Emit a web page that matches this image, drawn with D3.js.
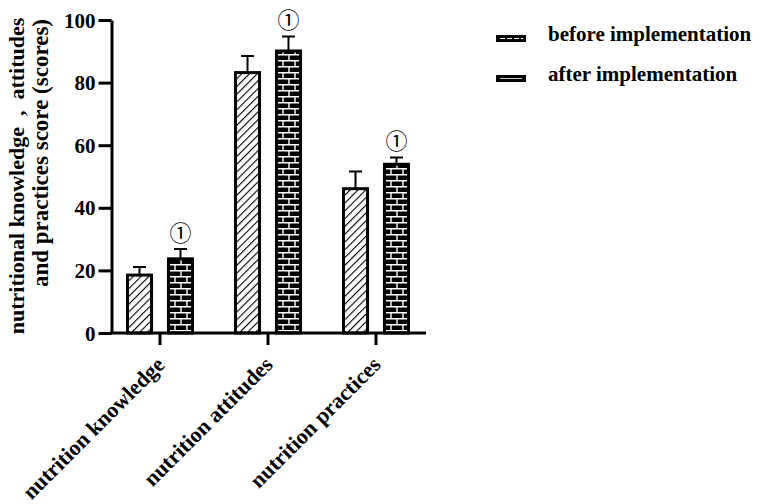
<!DOCTYPE html>
<html>
<head>
<meta charset="utf-8">
<script src="https://cdn.jsdelivr.net/npm/d3@7"></script>
<style>
  body { margin: 0; background: #fff; }
  svg { display: block; }
  text { font-family: 'Liberation Serif', 'Times New Roman', serif; font-weight: bold; fill: #000; }
</style>
</head>
<body>
<div id="chart"></div>
<script>
// Chart data
const categories = ['nutrition knowledge', 'nutrition attitudes', 'nutrition practices'];
const seriesNames = ['before implementation', 'after implementation'];
const beforeValues = [18.5, 83.2, 46.1];
const beforeErrors = [2.6, 5.3, 5.5];
const afterValues = [23.7, 90.1, 53.9];
const afterErrors = [3.1, 4.6, 2.2];
const yTicks = [0, 20, 40, 60, 80, 100];
const significant = [true, true, true];

const width = 765;
const height = 504;

const svg = d3.select('#chart')
  .append('svg')
  .attr('width', width)
  .attr('height', height);

const defs = svg.append('defs');

// diagonal hatch for "before"
const hatch = defs.append('pattern')
  .attr('id', 'hatch')
  .attr('patternUnits', 'userSpaceOnUse')
  .attr('width', 5.5)
  .attr('height', 5.5)
  .attr('patternTransform', 'rotate(45)');
hatch.append('rect').attr('width', 5.5).attr('height', 5.5).attr('fill', '#fff');
hatch.append('line')
  .attr('x1', 0).attr('y1', 0).attr('x2', 0).attr('y2', 5.5)
  .attr('stroke', '#000').attr('stroke-width', 2.2);

// brick for "after"
const brick = defs.append('pattern')
  .attr('id', 'brick')
  .attr('patternUnits', 'userSpaceOnUse')
  .attr('width', 12)
  .attr('height', 12);
brick.append('rect').attr('width', 12).attr('height', 12).attr('fill', '#000');
brick.append('path')
  .attr('d', 'M0,0.75H12M0,6.75H12M3,0.75V6.75M9,6.75V12')
  .attr('stroke', '#fff').attr('stroke-width', 1.4).attr('fill', 'none');

// Scales
const x = d3.scaleBand().domain(categories).range([106, 430]);
const inner = d3.scaleBand().domain(seriesNames).range([-34, 34]).paddingInner(0.34);
const y = d3.scaleLinear().domain([0, 100]).range([333, 20]);

const rows = categories.map((c, i) => ({
  cat: c,
  bars: [
    { key: seriesNames[0], v: beforeValues[i], e: beforeErrors[i], fill: 'url(#hatch)' },
    { key: seriesNames[1], v: afterValues[i], e: afterErrors[i], fill: 'url(#brick)' },
  ],
  sig: significant[i],
  after: afterValues[i] + afterErrors[i],
}));

// Bars and error bars
const groups = svg.selectAll('.grp')
  .data(rows)
  .enter().append('g')
  .attr('class', 'grp')
  .attr('transform', d => `translate(${x(d.cat) + x.bandwidth() / 2},0)`);

groups.selectAll('.err')
  .data(d => d.bars)
  .enter().append('path')
  .attr('class', 'err')
  .attr('d', b => {
    const cx = inner(b.key) + inner.bandwidth() / 2;
    const top = y(b.v + b.e);
    return `M${cx},${y(b.v)}V${top}M${cx - 6.5},${top}H${cx + 6.5}`;
  })
  .attr('stroke', '#000')
  .attr('stroke-width', 2)
  .attr('fill', 'none');

groups.selectAll('.bar')
  .data(d => d.bars)
  .enter().append('rect')
  .attr('class', 'bar')
  .attr('x', b => inner(b.key) + 1.5)
  .attr('width', inner.bandwidth() - 3)
  .attr('y', b => y(b.v))
  .attr('height', b => y(0) - y(b.v))
  .attr('fill', b => b.fill)
  .attr('stroke', '#000')
  .attr('stroke-width', 3);

// significance marks
groups.filter(d => d.sig)
  .append('text')
  .attr('x', inner(seriesNames[1]) + inner.bandwidth() / 2)
  .attr('y', d => y(d.after) - 16)
  .attr('dy', '0.35em')
  .attr('text-anchor', 'middle')
  .style('font-family', "'Noto Sans CJK SC', 'DejaVu Sans', sans-serif")
  .style('font-weight', 'normal')
  .style('font-size', '22px')
  .style('fill', '#000')
  .text('①');

// Y axis
const yAxis = svg.append('g')
  .attr('transform', 'translate(111.5,0)')
  .call(d3.axisLeft(y).tickValues(yTicks).tickSize(13).tickSizeOuter(0).tickPadding(3));
yAxis.select('.domain').attr('stroke-width', 3);
yAxis.selectAll('.tick line').attr('stroke-width', 3);
yAxis.selectAll('.tick text')
  .style('font-size', '21px')
  .style('font-family', "'Liberation Serif', serif")
  .attr('dy', '0.34em');

// X axis
const xAxis = svg.append('g')
  .attr('transform', `translate(0,${y(0)})`)
  .call(d3.axisBottom(x).tickSize(12).tickSizeOuter(0).tickFormat(''));
xAxis.select('.domain').remove();
xAxis.append('line')
  .attr('x1', 110).attr('x2', 426)
  .attr('stroke', '#000').attr('stroke-width', 3);
xAxis.selectAll('.tick line').attr('stroke-width', 3);

svg.append('g')
  .selectAll('text')
  .data(categories)
  .enter().append('text')
  .attr('transform', d => `translate(${x(d) + x.bandwidth() / 2 + 6},${y(0) + 33}) rotate(-45)`)
  .attr('text-anchor', 'end')
  .style('font-size', '22px')
  .text(d => d);

// Y title (two lines)
svg.append('text')
  .attr('transform', 'translate(24,176) rotate(-90)')
  .attr('text-anchor', 'middle')
  .style('font-size', '22px')
  .text('nutritional knowledge\u2002,\u2002attitudes');
svg.append('text')
  .attr('transform', 'translate(48,153) rotate(-90)')
  .attr('text-anchor', 'middle')
  .style('font-size', '23px')
  .text('and practices score (scores)');

// Legend
const legend = svg.append('g')
  .selectAll('g')
  .data(seriesNames)
  .enter().append('g')
  .attr('transform', (d, i) => `translate(496,${35 + i * 40})`);
legend.append('rect')
  .attr('width', 30).attr('height', 7).attr('fill', '#000');
legend.filter((d, i) => i === 0).append('line')
  .attr('x1', 4).attr('x2', 27).attr('y1', 3.5).attr('y2', 3.5)
  .attr('stroke', '#fff').attr('stroke-width', 1).attr('stroke-dasharray', '5,2');
legend.filter((d, i) => i === 1).append('line')
  .attr('x1', 4).attr('x2', 26).attr('y1', 3.5).attr('y2', 3.5)
  .attr('stroke', '#fff').attr('stroke-width', 0.8);
legend.append('text')
  .attr('x', 52)
  .attr('y', 6)
  .style('font-size', '21px')
  .text(d => d);
</script>
</body>
</html>
